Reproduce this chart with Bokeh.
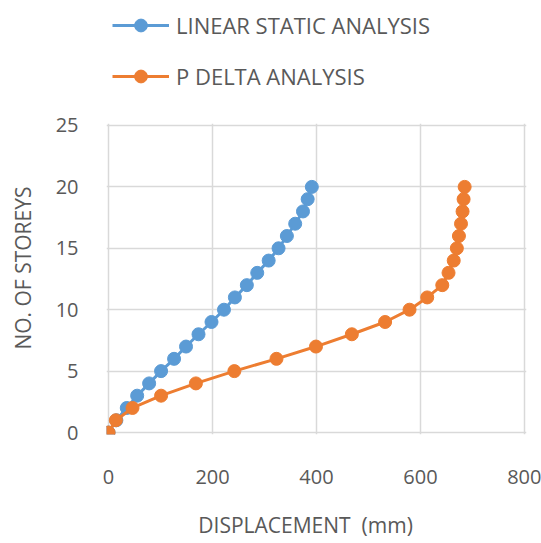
from bokeh.plotting import figure
from bokeh.models import Legend, LegendItem, FixedTicker, Range1d
from bokeh.layouts import column
from bokeh.embed import file_html
from bokeh.resources import INLINE

storeys = list(range(0, 21))
linear_static = [0, 15, 35, 55, 78, 101, 126, 149, 173, 198, 222, 243, 266, 286, 308, 327, 343, 359, 374, 383, 391]
p_delta = [0, 14, 46, 101, 168, 242, 323, 399, 468, 532, 579, 613, 642, 654, 664, 670, 674, 678, 681, 683, 685]
x_ticks = [0, 200, 400, 600, 800]
y_ticks = [0, 5, 10, 15, 20, 25]
series_names = ["LINEAR STATIC ANALYSIS", "P DELTA ANALYSIS"]

BLUE = "#5B9BD5"
ORANGE = "#ED7D31"
GREY = "#595959"
FONT = "Open Sans"
NB = "\u00a0"

# ---- legend strip (top); its frame is aligned with the chart frame by the column ----
top = figure(width=541, height=100, output_backend="svg", toolbar_location=None,
             x_axis_location=None, y_axis_location=None,
             x_range=Range1d(-10, -9), y_range=Range1d(-10, -9))
top.min_border = 0
top.outline_line_color = None
top.xgrid.visible = False
top.ygrid.visible = False
tl1 = top.line(linear_static, storeys, line_color=BLUE, line_width=3)
ts1 = top.scatter(linear_static, storeys, size=13, fill_color=BLUE, line_color=BLUE)
tl2 = top.line(p_delta, storeys, line_color=ORANGE, line_width=3)
ts2 = top.scatter(p_delta, storeys, size=13, fill_color=ORANGE, line_color=ORANGE)
legend = Legend(items=[
    LegendItem(label=series_names[0], renderers=[tl1, ts1]),
    LegendItem(label=series_names[1], renderers=[tl2, ts2]),
], location=(6, 8), orientation="vertical")
legend.label_text_font = FONT
legend.label_text_font_size = "22px"
legend.label_text_color = GREY
legend.glyph_width = 57
legend.glyph_height = 32
legend.label_height = 32
legend.label_standoff = 7
legend.spacing = 19
legend.padding = 0
legend.margin = 0
legend.border_line_color = None
legend.background_fill_alpha = 0
top.add_layout(legend, "center")

# ---- main chart ----
p = figure(width=541, height=443, output_backend="svg", toolbar_location=None,
           x_range=Range1d(-4, 804), y_range=Range1d(-0.16, 25.16))
p.min_border_left = 106
p.min_border_right = 15
p.min_border_top = 23
p.min_border_bottom = 109
p.outline_line_color = None

p.line(linear_static, storeys, line_color=BLUE, line_width=3)
p.scatter(linear_static, storeys, size=13, fill_color=BLUE, line_color=BLUE)
p.line(p_delta, storeys, line_color=ORANGE, line_width=3)
p.scatter(p_delta, storeys, size=13, fill_color=ORANGE, line_color=ORANGE)

for ax in (p.xaxis[0], p.yaxis[0]):
    ax.axis_line_color = None
    ax.major_tick_line_color = None
    ax.minor_tick_line_color = None
    ax.major_label_text_font = FONT
    ax.major_label_text_font_size = "20px"
    ax.major_label_text_color = GREY
    ax.axis_label_text_font = FONT
    ax.axis_label_text_font_size = "21px"
    ax.axis_label_text_color = GREY
    ax.axis_label_text_font_style = "normal"

p.xaxis.ticker = FixedTicker(ticks=x_ticks)
p.yaxis.ticker = FixedTicker(ticks=y_ticks)
p.xaxis.major_label_standoff = 29
p.yaxis.major_label_standoff = 22
p.xaxis.axis_label = "DISPLACEMENT " + NB + "(mm)" + NB * 4
p.yaxis.axis_label = NB * 4 + "NO. OF STOREYS"
p.xaxis.axis_label_standoff = 24
p.yaxis.axis_label_standoff = 16

p.xgrid.ticker = FixedTicker(ticks=x_ticks)
p.ygrid.ticker = FixedTicker(ticks=y_ticks)
p.xgrid.grid_line_color = "#D9D9D9"
p.ygrid.grid_line_color = "#D9D9D9"
p.xgrid.grid_line_width = 1.5
p.ygrid.grid_line_width = 1.5

layout = column(top, p, spacing=0)
open("out.html", "w").write(file_html(layout, INLINE))
